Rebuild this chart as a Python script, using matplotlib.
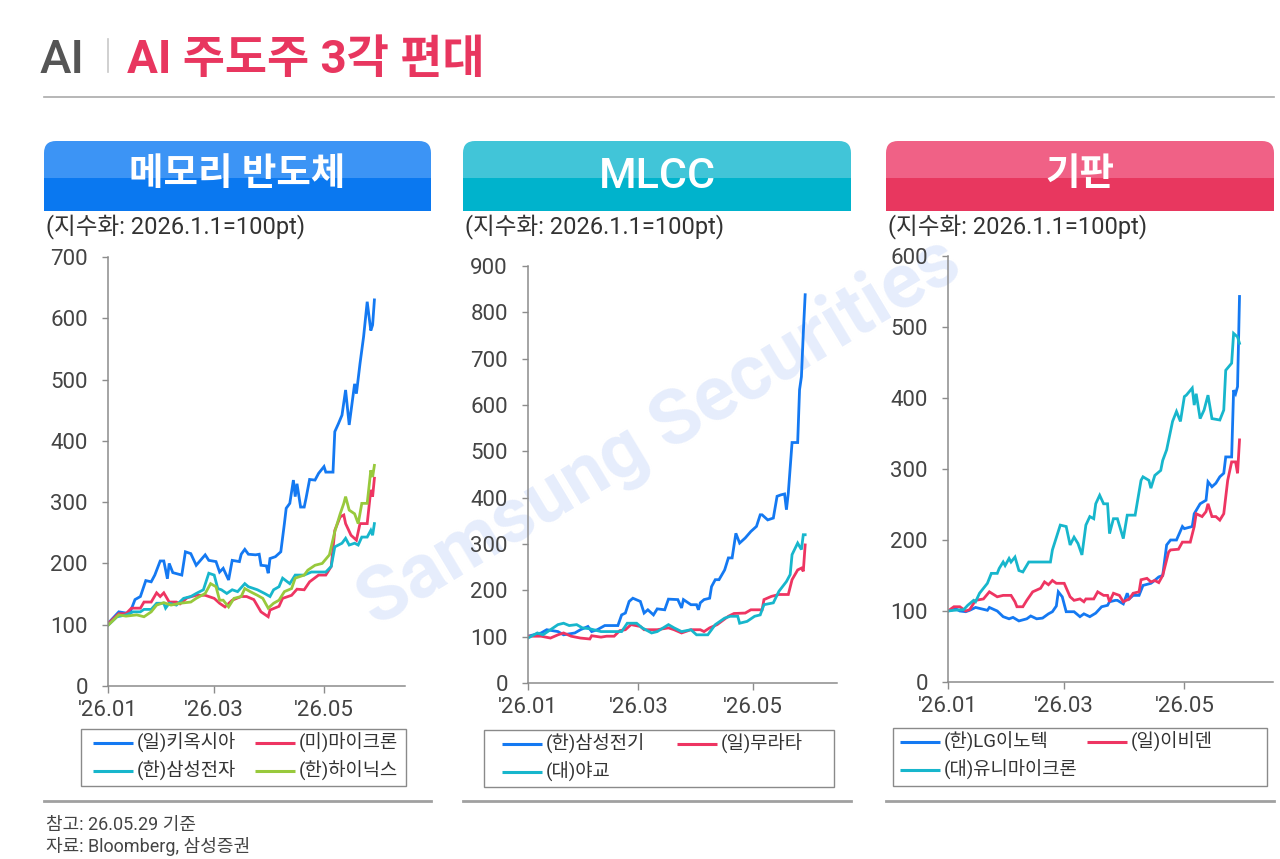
import matplotlib
matplotlib.use('Agg')
import matplotlib.pyplot as plt
from matplotlib.patches import FancyBboxPatch, Rectangle
import pandas as pd

plt.rcParams['font.family'] = ['Roboto', 'Noto Sans CJK KR', 'DejaVu Sans']

START = pd.Timestamp('2026-01-01')

# --- 메모리 반도체 (days since 2026-01-01, index 2026.1.1=100) ---
kioxia_d = [0, 6, 12, 15, 18, 21, 24, 26, 29, 31, 33, 34, 36, 41, 43, 46, 49, 54, 56, 60,
            62, 64, 67, 69, 73, 74, 76, 78, 82, 84, 85, 88, 89, 90, 93, 96, 98, 99, 101, 103,
            104, 105, 107, 109, 110, 112, 115, 117, 120, 121, 125, 126, 128, 130, 132, 134, 137, 138, 140, 142,
            144, 146, 147, 148]
kioxia_v = [102, 121, 118, 141, 146, 172, 170, 181, 204, 204, 175, 200, 185, 181, 219, 216, 197, 214, 205, 203,
            186, 192, 173, 205, 203, 215, 223, 215, 214, 215, 197, 196, 184, 208, 211, 219, 265, 290, 298, 336,
            309, 330, 292, 292, 306, 337, 336, 347, 358, 349, 349, 415, 428, 442, 483, 426, 493, 477, 526, 570,
            627, 580, 589, 630]
micron_d = [0, 6, 10, 13, 18, 20, 24, 27, 29, 31, 34, 38, 40, 44, 49, 54, 59, 62, 65, 69,
            74, 77, 81, 85, 89, 90, 95, 97, 102, 105, 109, 112, 117, 121, 124, 126, 129, 131, 132, 135,
            138, 140, 144, 146, 147, 148]
micron_v = [102, 118, 118, 127, 127, 137, 137, 152, 146, 152, 137, 137, 134, 144, 148, 148, 143, 135, 129, 140,
            146, 146, 141, 121, 113, 124, 130, 143, 148, 158, 157, 170, 181, 181, 195, 254, 276, 279, 265, 246,
            238, 265, 265, 320, 309, 339]
sec_d = [0, 5, 10, 14, 18, 20, 24, 27, 31, 32, 34, 38, 42, 46, 49, 53, 56, 59, 61, 63,
         66, 69, 72, 76, 78, 83, 87, 90, 92, 95, 97, 101, 104, 109, 113, 117, 121, 124, 126, 130,
         132, 134, 137, 139, 141, 144, 146, 147, 148]
sec_v = [99, 113, 116, 121, 121, 125, 125, 135, 135, 127, 135, 132, 143, 146, 151, 157, 184, 181, 159, 157,
         151, 157, 154, 167, 162, 157, 151, 146, 157, 162, 176, 167, 181, 181, 186, 186, 186, 195, 227, 233,
         241, 230, 233, 230, 243, 243, 254, 246, 265]
hynix_d = [0, 6, 10, 16, 20, 24, 27, 31, 35, 40, 46, 49, 54, 57, 60, 62, 64, 67, 70, 74,
           76, 79, 83, 86, 89, 92, 95, 98, 102, 104, 109, 111, 115, 119, 123, 126, 129, 131, 132, 134,
           137, 139, 141, 144, 146, 147, 148]
hynix_v = [99, 116, 114, 116, 113, 121, 132, 136, 132, 135, 137, 143, 151, 167, 162, 140, 140, 129, 143, 146,
           159, 154, 148, 143, 127, 135, 140, 154, 159, 176, 181, 189, 197, 200, 214, 252, 281, 298, 309, 287,
           281, 265, 298, 298, 352, 341, 360]

# --- MLCC ---
semco_d = [0, 7, 10, 16, 19, 25, 28, 32, 34, 37, 41, 48, 50, 52, 54, 56, 60, 62, 64, 67,
           69, 73, 75, 80, 82, 83, 87, 90, 91, 92, 94, 97, 98, 100, 102, 105, 107, 109, 111, 113,
           116, 119, 122, 124, 125, 128, 131, 133, 135, 137, 138, 139, 141, 144, 145, 146, 147, 148]
semco_v = [101, 108, 115, 111, 104, 108, 115, 122, 111, 115, 124, 124, 147, 151, 176, 183, 176, 151, 158, 147,
           160, 158, 181, 180, 162, 180, 169, 169, 158, 173, 180, 183, 208, 223, 223, 244, 270, 270, 323, 302,
           313, 327, 338, 363, 363, 352, 356, 403, 406, 408, 374, 410, 519, 519, 633, 661, 755, 838]
murata_d = [0, 7, 12, 16, 19, 23, 28, 33, 34, 39, 42, 46, 49, 52, 55, 60, 62, 69, 75, 78,
            82, 87, 92, 94, 97, 101, 107, 110, 116, 119, 125, 126, 130, 134, 139, 141, 144, 146, 147, 148]
murata_v = [101, 101, 97, 104, 108, 101, 97, 95, 102, 99, 101, 101, 113, 115, 126, 122, 115, 115, 119, 115,
            108, 115, 115, 111, 119, 126, 144, 150, 151, 158, 158, 180, 187, 191, 191, 223, 244, 248, 241, 298]
yageo_d = [0, 5, 8, 12, 16, 19, 22, 26, 29, 33, 39, 44, 50, 53, 58, 61, 66, 69, 75, 78,
           82, 87, 90, 96, 100, 105, 108, 112, 113, 117, 121, 124, 126, 131, 134, 138, 140, 141, 144, 146,
           147, 148]
yageo_v = [97, 108, 104, 115, 126, 129, 124, 126, 119, 117, 111, 111, 111, 129, 129, 119, 108, 111, 126, 119,
           111, 115, 104, 104, 126, 140, 144, 144, 129, 133, 144, 147, 169, 173, 198, 219, 234, 277, 302, 288,
           320, 320]

# --- 기판 ---
lgi_d = [0, 4, 6, 9, 11, 14, 17, 20, 21, 25, 28, 31, 33, 36, 40, 42, 45, 48, 51, 53,
         55, 56, 58, 60, 64, 67, 69, 72, 75, 78, 81, 82, 85, 86, 89, 91, 92, 94, 97, 99,
         103, 104, 107, 109, 111, 113, 116, 119, 120, 124, 125, 128, 131, 132, 134, 136, 138, 140, 141, 144,
         145, 146, 147, 148]
lgi_v = [100, 103, 100, 99, 101, 105, 103, 101, 105, 100, 92, 89, 91, 86, 89, 93, 89, 90, 96, 99,
         107, 127, 120, 99, 99, 92, 96, 92, 97, 106, 108, 113, 115, 115, 110, 125, 117, 122, 122, 136,
         139, 141, 148, 150, 193, 200, 200, 219, 216, 219, 237, 251, 256, 282, 275, 280, 289, 294, 317, 317,
         411, 406, 416, 543]
ibiden_d = [0, 3, 6, 9, 11, 14, 18, 21, 25, 28, 32, 34, 35, 38, 40, 43, 47, 49, 51, 53,
            55, 59, 62, 64, 67, 69, 70, 74, 76, 79, 81, 82, 84, 87, 89, 92, 94, 97, 98, 101,
            103, 105, 107, 109, 112, 113, 117, 119, 123, 125, 126, 129, 131, 132, 134, 136, 138, 140, 142, 144,
            146, 147, 148]
ibiden_v = [100, 106, 106, 100, 102, 115, 117, 127, 120, 122, 122, 113, 106, 106, 115, 127, 132, 141, 137, 143,
            139, 139, 120, 115, 117, 113, 117, 117, 127, 122, 122, 113, 125, 122, 113, 117, 125, 127, 144, 146,
            141, 143, 140, 150, 183, 186, 187, 197, 197, 219, 237, 233, 240, 251, 233, 233, 228, 237, 284, 310,
            310, 294, 341]
unimicron_d = [0, 3, 8, 10, 13, 14, 16, 20, 22, 25, 26, 28, 29, 31, 32, 34, 36, 38, 41, 52,
               53, 57, 60, 62, 64, 66, 68, 70, 72, 74, 75, 77, 79, 81, 82, 84, 86, 89, 91, 95,
               98, 99, 102, 103, 105, 108, 109, 111, 114, 116, 118, 120, 121, 124, 125, 126, 128, 130, 132, 134,
               138, 140, 141, 144, 145, 147, 148]
unimicron_v = [100, 101, 102, 108, 115, 113, 125, 139, 153, 153, 160, 169, 164, 174, 169, 176, 157, 155, 169, 169,
               186, 221, 219, 193, 204, 195, 179, 221, 233, 230, 251, 263, 251, 251, 209, 230, 230, 202, 235, 235,
               284, 289, 284, 273, 291, 298, 312, 327, 367, 381, 367, 402, 404, 414, 390, 406, 371, 383, 404, 371,
               369, 383, 439, 449, 491, 486, 477]

BLUE, RED, CYAN, GREEN = '#1479f2', '#ee3562', '#17b6cc', '#98c93c'
tick_labels = ["'26.01", "'26.03", "'26.05"]
tick_dates = ['2026-01-01', '2026-03-01', '2026-05-01']

panels = [
    dict(title='메모리 반도체', light='#3c94f5', dark='#0a78f0', x0=44, x1=431,
         ax=(108, 405, 257, 686), ymax=700,
         series=[('(일)키옥시아', kioxia_d, kioxia_v, BLUE), ('(미)마이크론', micron_d, micron_v, RED),
                 ('(한)삼성전자', sec_d, sec_v, CYAN), ('(한)하이닉스', hynix_d, hynix_v, GREEN)],
         leg=(81, 729, 406, 786), cols=(93, 255)),
    dict(title='MLCC', light='#41c5d8', dark='#00b3cc', x0=463, x1=851,
         ax=(528, 837, 266, 683), ymax=900,
         series=[('(한)삼성전기', semco_d, semco_v, BLUE), ('(일)무라타', murata_d, murata_v, RED),
                 ('(대)야교', yageo_d, yageo_v, CYAN)],
         leg=(484, 730, 834, 787), cols=(502, 677)),
    dict(title='기판', light='#f06186', dark='#e8375f', x0=886, x1=1274,
         ax=(948, 1273, 256, 682), ymax=600,
         series=[('(한)LG이노텍', lgi_d, lgi_v, BLUE), ('(일)이비덴', ibiden_d, ibiden_v, RED),
                 ('(대)유니마이크론', unimicron_d, unimicron_v, CYAN)],
         leg=(893, 728, 1267, 786), cols=(900, 1087)),
]

W, H = 1280, 859
fig = plt.figure(figsize=(12.8, 8.59), dpi=100)
fig.patch.set_facecolor('white')

# pixel-space overlay for the decoration
bg = fig.add_axes([0, 0, 1, 1], zorder=0)
bg.set_xlim(0, W)
bg.set_ylim(H, 0)
bg.axis('off')

bg.text(660, 433, 'Samsung Securities', rotation=31, rotation_mode='anchor',
        ha='center', va='center', fontsize=55, fontweight='bold', color='#e6edfc')

bg.text(40, 73, 'AI', fontsize=34, fontweight='medium', color='#555555', va='baseline')
bg.plot([108, 108], [39, 72], color='#c8c8c8', lw=1.2)
bg.text(127, 73, 'AI 주도주 3각 편대', fontsize=33, fontweight='bold', color='#e8365f', va='baseline')
bg.plot([44, 1274], [97, 97], color='#aaaaaa', lw=1.2)

for p in panels:
    x0, x1 = p['x0'], p['x1']
    bg.add_patch(FancyBboxPatch((x0, 141), x1 - x0, 70, boxstyle='round,pad=0,rounding_size=12',
                                fc=p['light'], ec='none'))
    bg.add_patch(Rectangle((x0, 178), x1 - x0, 33, fc=p['dark'], ec='none'))
    if p['title'] == 'MLCC':
        bg.text((x0 + x1) / 2, 177, p['title'], ha='center', va='center', color='white',
                fontsize=31, fontweight='medium')
    else:
        bg.text((x0 + x1) / 2, 175, p['title'], ha='center', va='center', color='white',
                fontsize=27, fontweight='bold')
    bg.text(x0 + 2, 227, '(지수화: 2026.1.1=100pt)', ha='left', va='center', fontsize=17, color='#333333')
    bg.plot([x0, x1], [801, 801], color='#a0a0a0', lw=2)

    # legend box
    lx0, ly0, lx1, ly1 = p['leg']
    bg.add_patch(Rectangle((lx0, ly0), lx1 - lx0, ly1 - ly0, fc='none', ec='#8a8a8a', lw=1))
    rows = (ly0 + 13.5, ly0 + 41.5)
    for i, (name, d, v, c) in enumerate(p['series']):
        cx = p['cols'][i % 2]
        ry = rows[i // 2]
        bg.plot([cx, cx + 40], [ry, ry], color=c, lw=2.2, solid_capstyle='butt')
        bg.text(cx + 44, ry, name, ha='left', va='center', fontsize=13.5, color='#333333')

    # chart axes
    l, r, t, b = p['ax']
    ax = fig.add_axes([l / W, 1 - b / H, (r - l) / W, (b - t) / H], zorder=1)
    ax.set_facecolor('none')
    for name, d, v, c in p['series']:
        x = START + pd.to_timedelta(d, unit='D')
        ax.plot(x, v, color=c, lw=2.0, solid_joinstyle='miter')
    ax.set_xlim(START, START + pd.Timedelta(days=165))
    ax.set_ylim(0, p['ymax'])
    ax.set_yticks(range(0, p['ymax'] + 1, 100))
    ax.set_xticks(pd.to_datetime(tick_dates))
    ax.set_xticklabels(tick_labels)
    for s in ('top', 'right'):
        ax.spines[s].set_visible(False)
    for s in ('left', 'bottom'):
        ax.spines[s].set_color('#8c8c8c')
        ax.spines[s].set_linewidth(1.1)
    ax.tick_params(axis='y', length=4.5, width=1, color='#8c8c8c', pad=10, labelsize=16, labelcolor='#444444')
    ax.tick_params(axis='x', length=5, width=1, color='#8c8c8c', pad=5, labelsize=16, labelcolor='#444444')

bg.text(46, 825, '참고: 26.05.29 기준', fontsize=13, color='#444444', va='center')
bg.text(46, 847, '자료: Bloomberg, 삼성증권', fontsize=13, color='#444444', va='center')

fig.savefig('out.png', dpi=100)
